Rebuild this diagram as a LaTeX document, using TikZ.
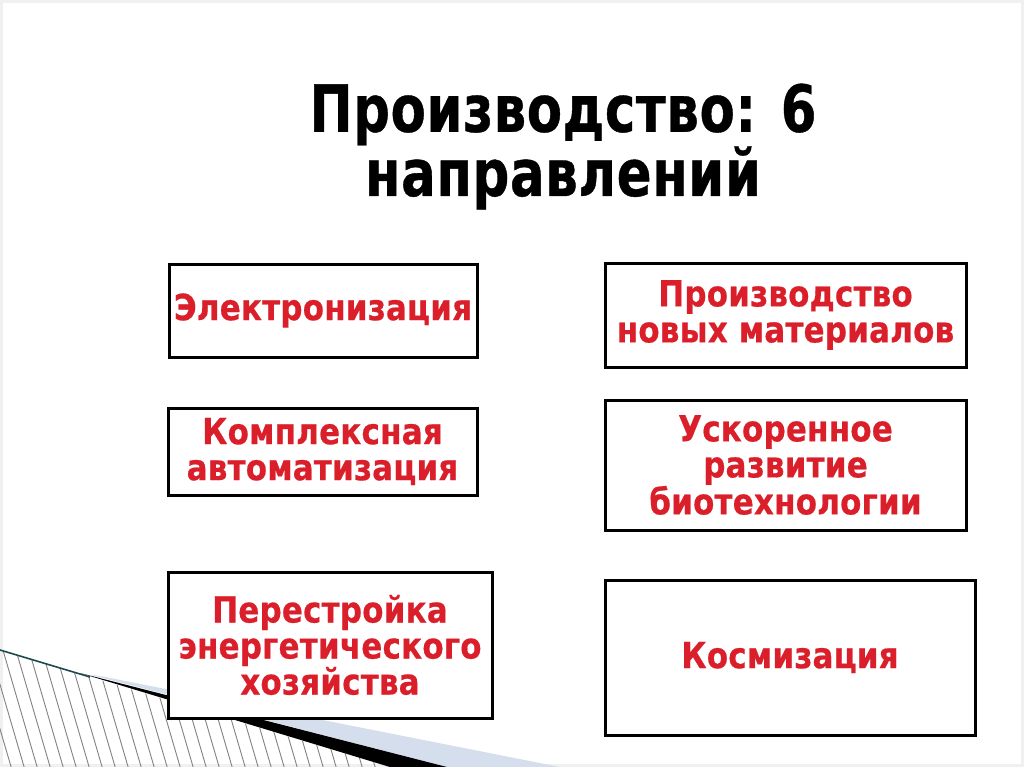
\documentclass[tikz,border=0pt]{standalone}
\usepackage{fontspec}
\newfontfamily\boxfont[FakeStretch=0.86,FakeBold=0.5,LetterSpace=0.6]{DejaVu Sans}
\newfontfamily\headfont[FakeStretch=0.79,FakeBold=0.6,LetterSpace=1]{DejaVu Sans}
\definecolor{boxred}{RGB}{218,30,42}
\definecolor{lightband}{RGB}{213,222,236}
\definecolor{tealline}{RGB}{30,75,80}
\definecolor{hatchgray}{RGB}{130,130,130}
\tikzset{
  tbox/.style={draw=black, line width=3pt, fill=white, inner sep=0pt,
    align=center, text=boxred,
    font=\boxfont\bfseries\fontsize{36}{36}\selectfont},
  headtitle/.style={align=center, text=black, inner sep=0pt,
    font=\headfont\bfseries\fontsize{65}{60}\selectfont},
  hatchline/.style={draw=hatchgray, line width=0.9pt}
}
\begin{document}
\begin{tikzpicture}[x=1pt,y=-1pt]
\useasboundingbox (0,0) rectangle (1024,767);
\fill[white] (0,0) rectangle (1024,767);
\draw[black!6, line width=3pt] (1.5,1.5) rectangle (1022.5,765.5);
% decoration bottom left
\begin{scope}
  \clip (0,650) -- (390,767) -- (0,767) -- cycle;
  \foreach \i in {-52,-39,...,420} \draw[hatchline] (\i,640) -- ++(38,130);
\end{scope}
\fill[lightband] (100,676) -- (560,767) -- (447,767) -- (90,674.6) -- cycle;
\fill[black] (80,673) -- (447,767) -- (390,767) -- cycle;
\draw[tealline, line width=1.6pt] (0,650) -- (90,677);
% title
\node[headtitle, anchor=base] (title) at (563,196) {Производство: 6\\направлений};
% boxes
\node[tbox, minimum width=308pt, minimum height=93pt] (b1) at (323,310.5) {Электронизация};
\node[tbox, minimum width=309pt, minimum height=87pt] (b2) at (322.5,451.5) {Комплексная\\автоматизация};
\node[tbox, minimum width=324pt, minimum height=146pt] (b3) at (330,645) {Перестройка\\энергетического\\хозяйства};
\node[tbox, minimum width=361pt, minimum height=104pt] (b4) at (785.5,315) {Производство\\новых материалов};
\node[tbox, minimum width=361pt, minimum height=130pt] (b5) at (785.5,465) {Ускоренное\\развитие\\биотехнологии};
\node[tbox, minimum width=370pt, minimum height=155pt] (b6) at (790,657.5) {Космизация};
\end{tikzpicture}
\end{document}
